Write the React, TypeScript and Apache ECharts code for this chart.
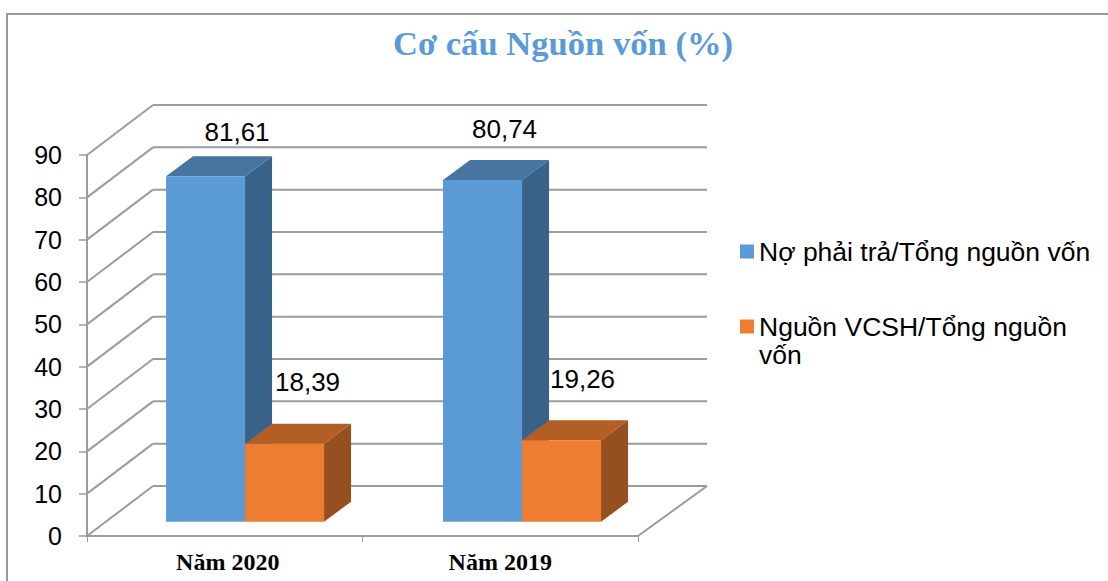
import React, { useEffect, useRef } from "react";
import * as echarts from "echarts";

const titleText = "Cơ cấu Nguồn vốn (%)";
const categories = ["Năm 2020", "Năm 2019"];
const debtName = "Nợ phải trả/Tổng nguồn vốn";
const equityName = "Nguồn VCSH/Tổng nguồn vốn";
const debtValues = [81.61, 80.74];
const equityValues = [18.39, 19.26];
const debtLabels = ["81,61", "80,74"];
const equityLabels = ["18,39", "19,26"];
const yTicks = [0, 10, 20, 30, 40, 50, 60, 70, 80, 90];

const GRID = { left: 87, top: 155, width: 551, height: 381 };
const WALL = { dx: 66, dy: -50, backRight: 707 };
const LINE = "#9c9c9c";
const BAR_W = 79;
const SIDE = { dx: 27, dy: -20 };
const FLOOR = { dy: -14.3 };
const centerShift = [20.3, 21.8];
const debtNudge = [[31.5, -44], [22, -51]];
const equityNudge = [[23, -62], [21, -61]];

function barSeries(
  name: string,
  values: number[],
  labels: string[],
  side: -1 | 0,
  nudge: number[][],
  colors: { front: string; top: string; side: string }
) {
  return {
    type: "custom",
    name,
    z: 5,
    clip: false,
    silent: true,
    itemStyle: { color: colors.front },
    data: values.map((v, i) => [i, v]),
    encode: { x: 0, y: 1 },
    renderItem: (params: any, api: any) => {
      const idx = api.value(0);
      const val = api.value(1);
      const top = api.coord([idx, val]);
      const base = api.coord([idx, 0]);
      const x0 = top[0] + centerShift[idx] + side * BAR_W;
      const x1 = x0 + BAR_W;
      const yT = top[1] + FLOOR.dy;
      const yB = base[1] + FLOOR.dy;
      const { dx, dy } = SIDE;
      return {
        type: "group",
        children: [
          {
            type: "polygon",
            shape: { points: [[x1, yT], [x1 + dx, yT + dy], [x1 + dx, yB + dy], [x1, yB]] },
            style: { fill: colors.side },
          },
          {
            type: "polygon",
            shape: { points: [[x0, yT], [x0 + dx, yT + dy], [x1 + dx, yT + dy], [x1, yT]] },
            style: { fill: colors.top },
          },
          {
            type: "polygon",
            shape: { points: [[x0, yT], [x1, yT], [x1, yB], [x0, yB]] },
            style: { fill: colors.front },
          },
          {
            type: "text",
            style: {
              text: labels[params.dataIndex],
              x: (x0 + x1) / 2 + nudge[idx][0],
              y: yT + nudge[idx][1],
              align: "center",
              verticalAlign: "middle",
              textAlign: "center",
              textVerticalAlign: "middle",
              fill: "#000",
              fontSize: 26,
              fontFamily: "Liberation Sans",
            },
          },
        ],
      };
    },
  };
}

export default function App() {
  const ref = useRef<HTMLDivElement>(null);
  useEffect(() => {
    const chart = echarts.init(ref.current!, null, { renderer: "svg" });
    const legendText = { fontSize: 26.5, color: "#000", fontFamily: "Liberation Sans" };
    const catFont = { fontSize: 24, fontWeight: "bold", color: "#000", fontFamily: "Liberation Serif" };
    chart.setOption({
      animation: false,
      backgroundColor: "#fff",
      title: {
        text: titleText,
        left: 558,
        top: 20,
        textAlign: "center",
        textStyle: { color: "#5B9BD5", fontSize: 34.6, fontWeight: "bold", fontFamily: "Liberation Serif" },
      },
      legend: [
        {
          data: [debtName],
          left: 735,
          top: 233,
          itemWidth: 14,
          itemHeight: 14,
          icon: "rect",
          textStyle: legendText,
        },
        {
          data: [equityName],
          left: 735,
          top: 308,
          itemWidth: 14,
          itemHeight: 14,
          icon: "rect",
          formatter: () => "Nguồn VCSH/Tổng nguồn",
          textStyle: legendText,
        },
      ],
      grid: { left: GRID.left, top: GRID.top, width: GRID.width, height: GRID.height, containLabel: false },
      xAxis: {
        type: "category",
        data: categories,
        boundaryGap: true,
        axisLine: { lineStyle: { color: LINE, width: 2 } },
        axisTick: { show: true, length: 6, lineStyle: { color: LINE, width: 1 }, alignWithLabel: false },
        axisLabel: {
          margin: 14,
          ...catFont,
          formatter: (v: string, i: number) => (i === 0 ? `{a|${v}}` : `{b|${v}}`),
          rich: { a: { ...catFont, padding: [0, 0, 0, 6] }, b: { ...catFont } },
        },
        splitLine: { show: false },
      },
      yAxis: {
        type: "value",
        min: 0,
        max: 90,
        interval: 10,
        axisLine: { show: true, lineStyle: { color: LINE, width: 2 } },
        axisTick: { show: true, length: 8, lineStyle: { color: LINE, width: 1.5 } },
        axisLabel: { margin: 25, fontSize: 25, color: "#000", fontFamily: "Liberation Sans" },
        splitLine: { show: false },
      },
      graphic: [
        {
          type: "polyline",
          shape: { points: [[7, 581], [7, 14], [1108, 14]] },
          style: { stroke: "#999", lineWidth: 2, fill: "none" },
          silent: true,
        },
        {
          type: "text",
          style: {
            text: "vốn",
            x: 759,
            y: 355,
            verticalAlign: "middle",
            textVerticalAlign: "middle",
            fill: "#000",
            fontSize: 26.5,
            fontFamily: "Liberation Sans",
          },
          silent: true,
        },
      ],
      series: [
        {
          type: "custom",
          z: 1,
          clip: false,
          silent: true,
          data: yTicks.map((t) => [0, t]),
          encode: { x: 0, y: 1 },
          renderItem: (_params: any, api: any) => {
            const y = api.coord([0, api.value(1)])[1];
            const x = GRID.left;
            const line = (x1: number, y1: number, x2: number, y2: number) => ({
              type: "line",
              shape: { x1, y1, x2, y2 },
              style: { stroke: LINE, lineWidth: 2, fill: "none" },
            });
            const children: any[] = [
              line(x, y, x + WALL.dx, y + WALL.dy),
              line(x + WALL.dx, y + WALL.dy, WALL.backRight, y + WALL.dy),
            ];
            if (api.value(1) === 0) {
              children.push(line(GRID.left + GRID.width, y, WALL.backRight, y + WALL.dy));
            }
            return { type: "group", children };
          },
        },
        barSeries(debtName, debtValues, debtLabels, -1, debtNudge, {
          front: "#5B9BD5",
          top: "#46759F",
          side: "#386287",
        }),
        barSeries(equityName, equityValues, equityLabels, 0, equityNudge, {
          front: "#ED7D31",
          top: "#B25E25",
          side: "#964F1E",
        }),
      ],
    });
    return () => chart.dispose();
  }, []);
  return <div ref={ref} style={{ position: "absolute", left: 0, top: 0, width: 1108, height: 581 }} />;
}
